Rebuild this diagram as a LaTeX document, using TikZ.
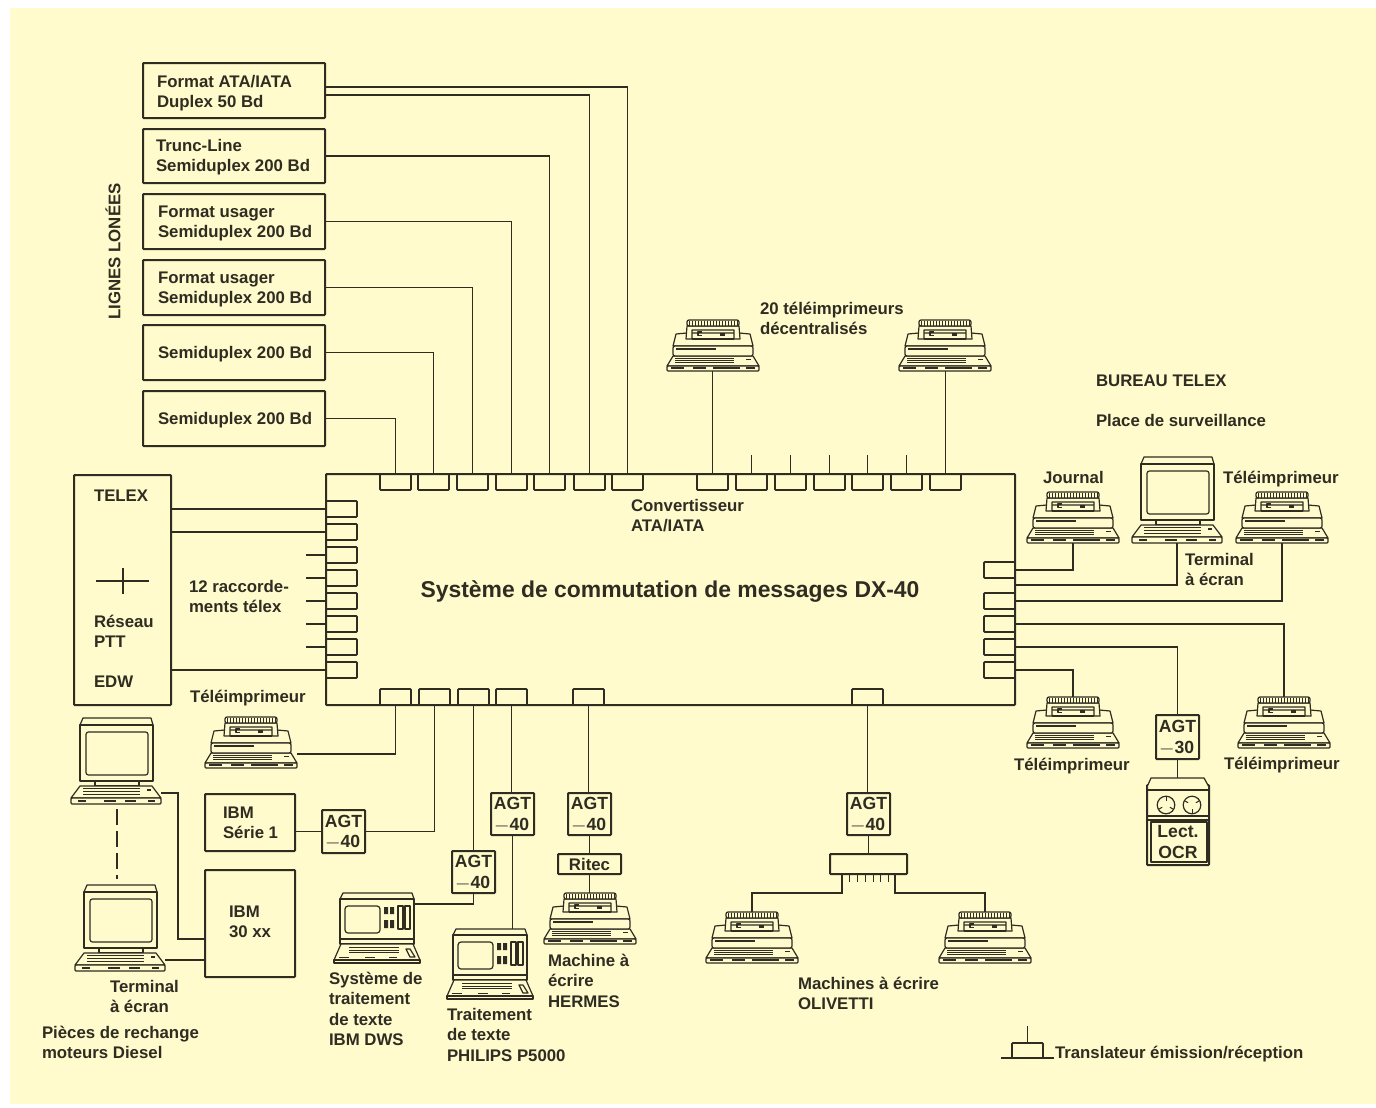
\documentclass[tikz,border=0pt]{standalone}
\usepackage{fontspec}
\setmainfont{Liberation Sans}[BoldFont={Liberation Sans Bold}]
\definecolor{ink}{HTML}{2F2C22}
\definecolor{paper}{HTML}{FFFBCD}
\newcommand{\bx}[7][]{\node[boxn,anchor=north west,minimum width={(#5-#3)*.5pt},minimum height={(#6-#4)*.5pt},#1] (#2) at (#3,#4) {#7};}
\newcommand{\trn}[3]{\node[boxn,thick line,anchor=north west,minimum width=15.5pt,minimum height=8pt] (#1) at (#2,#3) {};}
\newcommand{\lbl}[4][]{\node[lab,#1] (#2) at (#3) {\rule{0pt}{7pt}#4};}
\newcommand{\agt}[1]{AGT\\[-.2pt]{\fontsize{6}{6}\selectfont\mdseries\raisebox{.5pt}{—}}\kern.8pt #1}
\tikzset{
 thick line/.style={line width=.85pt},
 boxn/.style={draw=ink,line width=1pt,inner sep=0pt,outer sep=0pt,rounded corners=.4pt,
   font=\fontsize{8.8}{10.3}\selectfont\bfseries,text=ink,align=center},
 lab/.style={anchor=north west,inner sep=0pt,outer sep=0pt,yshift=4.25pt,align=left,text=ink,
   font=\fontsize{8.4}{10.2}\selectfont\bfseries},
 wire/.style={draw=ink,line width=.85pt},
 fine/.style={draw=ink,line width=.6pt,line join=round,fill=paper},
 finenf/.style={draw=ink,line width=.6pt,line join=round},
 kb/.style={draw=ink,line width=.45pt},
 kbd/.style={draw=ink,line width=.9pt},
 printer/.pic={
  \draw[fine] (-40,-25) -- (-37,-37) -- (-26,-38) -- (26,-38) -- (37,-37) -- (40,-25) -- cycle;
  \draw[fine] (-46,-5) -- (-40,-15) -- (40,-15) -- (46,-5) -- cycle;
  \draw[fine,rounded corners=1pt] (-40,-25) rectangle (40,-15);
  \draw[kbd] (-37,-22) -- (3,-22);
  \draw[fine,rounded corners=.5pt] (-46,-5) rectangle (46,0);
  \foreach \yy in {-12.8,-10.5,-8.2}{\draw[kb] (-38,\yy) -- (21,\yy);}
  \draw[kb] (33,-12) -- (38,-12);
  \draw[kbd,line width=.8pt] (-42,-3.3) -- (-29,-3.3) (-20,-3.3) -- (-7,-3.3) (0,-3.3) -- (27,-3.3) (33,-3.3) -- (42,-3.3);
  \draw[fine] (-26,-45) -- (-27,-32) -- (-21,-32) -- (-21,-41) -- (21,-41) -- (21,-32) -- (27,-32) -- (26,-45) -- cycle;
  \draw[finenf] (-21,-32) -- (21,-32);
  \draw[fine,rounded corners=1pt] (-26,-45) -- (-26,-51) -- (26,-51) -- (26,-45) -- cycle;
  \foreach \xx in {-24,-21,...,24}{\draw[line width=.45pt,draw=ink] (\xx,-50.5) -- (\xx,-45.5);}
  \draw[finenf] (-11,-39) -- (-15,-39) -- (-15,-35.5) -- (-11,-35.5);
  \fill[ink] (7,-38.5) rectangle (12,-35.5);
  \coordinate (-b) at (0,0);
  \coordinate (-t) at (0,-51);
  \coordinate (-r) at (46,-14);
 },
 screenterm/.pic={
  \draw[fine] (-36,-79) -- (-33,-86) -- (35,-86) -- (37,-79) -- cycle;
  \draw[fine] (-36,-79) rectangle (37,-23);
  \draw[fine,rounded corners=1.2pt] (-30,-72) rectangle (32,-29);
  \draw[fine] (-21,-23) rectangle (23,-18);
  \draw[fine] (-45,-6) -- (-36,-18) -- (36,-18) -- (45,-6) -- cycle;
  \draw[fine,rounded corners=.5pt] (-45,-6) rectangle (45,0);
  \foreach \yy in {-15.2,-12.6,-10}{\draw[kb] (-33,\yy) -- (24,\yy);}
  \draw[kbd] (31,-14) -- (35,-14);
  \draw[kbd,line width=.8pt] (-38,-3) -- (-30,-3) (-12,-3) -- (0,-3) (9,-3) -- (20,-3) (32,-3) -- (39,-3);
  \coordinate (-b) at (0,0);
  \coordinate (-t) at (0,-86);
  \coordinate (-r) at (45,-11);
 },
 dwsterm/.pic={
  \draw[fine] (-37,-64) -- (-34,-70) -- (35,-70) -- (37,-64) -- cycle;
  \draw[fine] (-37,-64) rectangle (37,-19);
  \draw[finenf] (-37,-24) -- (37,-24);
  \draw[fine,rounded corners=1.5pt] (-32,-57) rectangle (3,-30);
  \fill[ink] (7,-56) rectangle (11,-49) (13,-56) rectangle (17,-49) (7,-43) rectangle (11,-35) (13,-43) rectangle (17,-35);
  \draw[fine] (21,-57) rectangle (26,-34) (28,-57) rectangle (33,-34);
  \draw[fine] (-43,-3) -- (-36,-19) -- (36,-19) -- (43,-3) -- cycle;
  \draw[fine] (-43,-3) rectangle (43,0);
  \foreach \yy in {-15.5,-13,-10.5}{\draw[kb] (-28,\yy) -- (22,\yy);}
  \draw[finenf] (29,-14) -- (33,-14) -- (38,-6) -- (33,-6) -- cycle;
  \draw[kbd,line width=.8pt] (-38,-5.5) -- (-28,-5.5) (-12,-5.5) -- (-2,-5.5) (12,-5.5) -- (20,-5.5);
  \coordinate (-b) at (0,0);
  \coordinate (-t) at (0,-70);
  \coordinate (-r) at (37,-59);
 },
}
\begin{document}
\begin{tikzpicture}[x=.5pt,y=-.5pt]
\useasboundingbox (0,0) rectangle (1376,1108);
\fill[paper] (10,8) rectangle (1376,1104);

% main frames
\bx{main}{326}{474}{1015}{705}{}
\bx{telex}{74}{475}{171}{705}{}
\bx{line1}{143}{63}{325}{118}{}
\bx{line2}{143}{129}{325}{183}{}
\bx{line3}{143}{194}{325}{249}{}
\bx{line4}{143}{260}{325}{315}{}
\bx{line5}{143}{325}{325}{380}{}
\bx{line6}{143}{391}{325}{446}{}
\bx{serie}{205}{794}{295}{851}{}
\bx{ibmxx}{205}{870}{295}{977}{}
\bx{agtA}{322}{810}{365}{853}{\agt{40}}
\bx{agtB}{452}{851}{495}{893}{\agt{40}}
\bx{agtC}{491}{793}{534}{835}{\agt{40}}
\bx{agtD}{568}{793}{611}{835}{\agt{40}}
\bx{agtE}{847}{793}{890}{835}{\agt{40}}
\bx{agtF}{1156}{715}{1199}{759}{\agt{30}}
\bx{ritec}{558}{854}{621}{874}{\fontsize{8.4}{10}\selectfont Ritec}
\bx{dist}{830}{854}{907}{874}{}

% translators
\foreach \n/\x in {t1/380,t2/418,t3/457,t4/496,t5/534,t6/574,t7/612,t8/697,t9/736,t10/775,t11/814,t12/852,t13/891,t14/930}{\trn{\n}{\x}{474}}
\foreach \n/\y in {l1/501,l2/524,l3/547,l4/570,l5/593,l6/616,l7/639,l8/662}{\trn{\n}{326}{\y}}
\foreach \n/\y in {r1/562,r2/593,r3/616,r4/639,r5/662}{\trn{\n}{984}{\y}}
\foreach \n/\x in {b1/380,b2/419,b3/458,b4/496,b5/573,b6/852}{\trn{\n}{\x}{689}}

% equipment
\pic (pTopA) at (713,371) {printer};
\pic (pTopB) at (945,371) {printer};
\pic (pJournal) at (1073,543) {printer};
\pic (pTele) at (1282,543) {printer};
\pic (tBureau) at (1177,543) {screenterm};
\pic (pLeft) at (251,768) {printer};
\pic (pLowA) at (1073,748) {printer};
\pic (pLowB) at (1284,748) {printer};
\pic (pHermes) at (590,944) {printer};
\pic (pOliA) at (752,963) {printer};
\pic (pOliB) at (985,963) {printer};
\pic (tIbmA) at (116,804) {screenterm};
\pic (tIbmB) at (120,971) {screenterm};
\pic (dDws) at (377,963) {dwsterm};
\pic (dPhil) at (490,999) {dwsterm};

% OCR reader
\bx{ocr}{1147}{785}{1209}{865}{}
\draw[fine] (1147,787) -- (1151,778) -- (1204,778) -- (1209,787);
\draw[finenf] (1147,790) -- (1209,790) (1147,816) -- (1209,816) (1147,820) -- (1209,820);
\draw[finenf] (1151,822) rectangle (1207,862);
\node[boxn,draw=none,font=\fontsize{8.8}{10.3}\selectfont\bfseries] (ocrtext) at (1178,842) {Lect.\\OCR};
\foreach \c/\r in {1166/90,1192/30}{
 \draw[finenf] (\c,805) circle (4.4pt);
 \foreach \a in {0,120,240}{\draw[line width=.5pt,draw=ink] (\c,805) ++(\a+\r:2.2pt) -- ++(\a+\r:1.8pt);}
}
\coordinate (ocrTop) at (1178,778);

% wires top
\draw[wire] ([yshift=1.75pt]line1.east) -| (t7.north);
\draw[wire] ([yshift=-2.25pt]line1.east) -| (t6.north);
\draw[wire] (line2.east) -| (t5.north);
\draw[wire] (line3.east) -| (t4.north);
\draw[wire] (line4.east) -| (t3.north);
\draw[wire] (line5.east) -| (t2.north);
\draw[wire] (line6.east) -| (t1.north);
\draw[wire] (t8.north) -- (t8.north |- pTopA-b);
\draw[wire] (t14.north) -- (t14.north |- pTopB-b);
\foreach \n in {t9,t10,t11,t12,t13}{\draw[wire] (\n.north) -- ([yshift=9.5pt]\n.north);}

% wires left
\draw[wire] (l1.west) -- (l1.west -| telex.east);
\draw[wire] (l2.west) -- (l2.west -| telex.east);
\draw[wire] (l8.west) -- (l8.west -| telex.east);
\foreach \n in {l3,l4,l5,l6,l7}{\draw[wire] (\n.west) -- ([xshift=-10pt]\n.west);}

% wires right
\coordinate (m585) at (1015,585);
\draw[wire] (r1.east) -| (pJournal-b);
\draw[wire] (m585) -| (tBureau-b);
\draw[wire] (r2.east) -| (pTele-b);
\draw[wire] (r3.east) -| (pLowB-t);
\draw[wire] (r4.east) -| (agtF.north);
\draw[wire] (r5.east) -| (pLowA-t);
\draw[wire] (agtF.south) -- (agtF.south |- ocrTop);

% wires bottom
\draw[wire] (b1.south) |- (pLeft-r);
\draw[wire] (b2.south) |- (agtA.east);
\draw[wire] (b3.south) -- (b3.south |- agtB.north);
\draw[wire] (b4.south) -- (b4.south |- agtC.north);
\draw[wire] (b5.south) -- (b5.south |- agtD.north);
\draw[wire] (b6.south) -- (b6.south |- agtE.north);
\draw[wire] (agtA.west) -- (agtA.west -| serie.east);
\draw[wire] (agtB.south) |- (dDws-r);
\draw[wire] (agtC.south) -- (agtC.south |- dPhil-t);
\draw[wire] (agtD.south) -- (ritec.north);
\draw[wire] (ritec.south) -- (ritec.south |- pHermes-t);
\draw[wire] (agtE.south) -- (agtE.south |- dist.north);

% distributor
\coordinate (dl) at (842,874);
\coordinate (dr) at (895,874);
\coordinate (dlb) at (842,893);
\coordinate (drb) at (895,893);
\draw[wire] (dl) -- (dlb) -| (pOliA-t);
\draw[wire] (dr) -- (drb) -| (pOliB-t);
\foreach \x in {849,857,865,873,880,888}{\draw[line width=.5pt,draw=ink] (\x,874) -- (\x,882);}

% terminals to IBM
\coordinate (inA) at (205,939);
\coordinate (bendA) at (178,939);
\draw[wire] (tIbmA-r) -| (bendA) -- (inA);
\draw[wire] (tIbmB-r) -- (tIbmB-r -| ibmxx.west);
\coordinate (dashA) at (117,809);
\coordinate (dashB) at (117,879);
\draw[wire,dash pattern=on 8pt off 3pt] (dashA) -- (dashB);

% cross in telex box
\coordinate (crossW) at (96,581);
\coordinate (crossE) at (149,581);
\coordinate (crossN) at (123,568);
\coordinate (crossS) at (123,594);
\draw[wire] (crossW) -- (crossE);
\draw[wire,line width=1pt] (crossN) -- (crossS);

% legend
\node[boxn,thick line,anchor=north west,minimum width=15.5pt,minimum height=7.5pt] (leg) at (1012,1043) {};
\coordinate (legL) at (1001,1058);
\coordinate (legR) at (1054,1058);
\draw[wire] (legL) -- (legR);
\draw[wire] (leg.north) -- ([yshift=8.5pt]leg.north);

% labels
\lbl{a1}{157,82}{Format ATA/IATA\\Duplex 50 Bd}
\lbl{a2}{156,146}{Trunc-Line\\Semiduplex 200 Bd}
\lbl{a3}{158,212}{Format usager\\Semiduplex 200 Bd}
\lbl{a4}{158,278}{Format usager\\Semiduplex 200 Bd}
\lbl{a5}{158,352.5}{Semiduplex 200 Bd}
\lbl{a6}{158,418.5}{Semiduplex 200 Bd}
\node[lab,anchor=center,yshift=0pt,rotate=90] (lignes) at (113,260) {LIGNES LONÉES};
\lbl{b20}{760,309}{20 téléimprimeurs\\décentralisés}
\lbl{bur}{1096,381}{BUREAU TELEX}
\lbl{pla}{1096,421}{Place de surveillance}
\lbl{jou}{1043,478}{Journal}
\lbl{tel1}{1223,478}{Téléimprimeur}
\lbl{ter1}{1185,560}{Terminal\\à écran}
\lbl{con}{631,506}{Convertisseur\\ATA/IATA}
\node[anchor=center,inner sep=0pt,text=ink,font=\fontsize{11.45}{13}\selectfont\bfseries] (title) at (670,592) {Système de commutation de messages DX-40};
\lbl{tx}{94,496}{TELEX}
\lbl{res}{94,622}{Réseau\\PTT}
\lbl{edw}{94,682}{EDW}
\lbl{rac}{189,587}{12 raccorde-\\ments télex}
\lbl{tel2}{190,697}{Téléimprimeur}
\lbl{ib1}{223,813}{IBM\\Série 1}
\lbl{ib2}{229,912}{IBM\\30 xx}
\lbl{ter2}{110,987}{Terminal\\à écran}
\lbl{pie}{42,1033}{Pièces de rechange\\moteurs Diesel}
\lbl{sys}{329,979}{Système de\\traitement\\de texte\\IBM DWS}
\lbl{tra}{447,1015}{Traitement\\de texte\\PHILIPS P5000}
\lbl{mac}{548,961}{Machine à\\écrire\\HERMES}
\lbl{oli}{798,984}{Machines à écrire\\OLIVETTI}
\lbl{tel3}{1014,765}{Téléimprimeur}
\lbl{tel4}{1224,764}{Téléimprimeur}
\lbl{trl}{1055,1053}{Translateur émission/réception}
\end{tikzpicture}
\end{document}
